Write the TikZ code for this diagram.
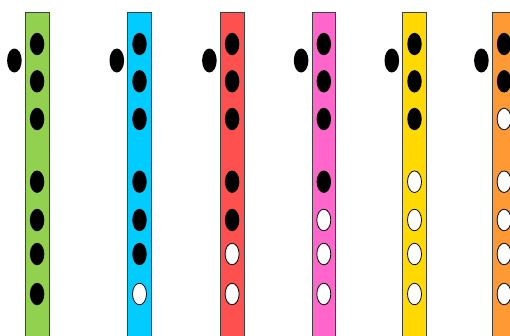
\documentclass[tikz,border=0pt]{standalone}
\definecolor{cgreen}{RGB}{146,208,80}
\definecolor{ccyan}{RGB}{0,204,255}
\definecolor{cred}{RGB}{255,80,80}
\definecolor{cpink}{RGB}{255,102,204}
\definecolor{cyellow}{RGB}{255,217,0}
\definecolor{corange}{RGB}{255,153,51}
\begin{document}
\begin{tikzpicture}[x=1pt,y=-1pt,
  barbox/.style={draw=black!75,line width=0.8pt},
  closedhole/.style={fill=black},
  openhole/.style={fill=white,draw=black,line width=0.8pt}]
\useasboundingbox (0,0) rectangle (510,335);
\clip (0,0) rectangle (510,335);
% bar left edges, colours, number of closed holes
\foreach \xl/\col/\nclosed [count=\i] in {25.3/cgreen/7, 127.7/ccyan/6, 220.3/cred/5, 312/cpink/4, 402.7/cyellow/3, 492.3/corange/2}{
  \pgfmathsetmacro{\xc}{\xl+11.8}
  \draw[barbox,fill=\col] (\xl,12) rectangle ++(23.6,330);
  % thumb hole
  \fill[closedhole] (\xc-22.7,60.5) ellipse [x radius=7.3,y radius=12];
  \foreach \yh [count=\k] in {44,81.3,119,181.7,220,254,294}{
    \ifnum\k>\nclosed
      \draw[openhole] (\xc,\yh) ellipse [x radius=7,y radius=10.8];
    \else
      \fill[closedhole] (\xc,\yh) ellipse [x radius=7.2,y radius=11.2];
    \fi
  }
}
\end{tikzpicture}
\end{document}
